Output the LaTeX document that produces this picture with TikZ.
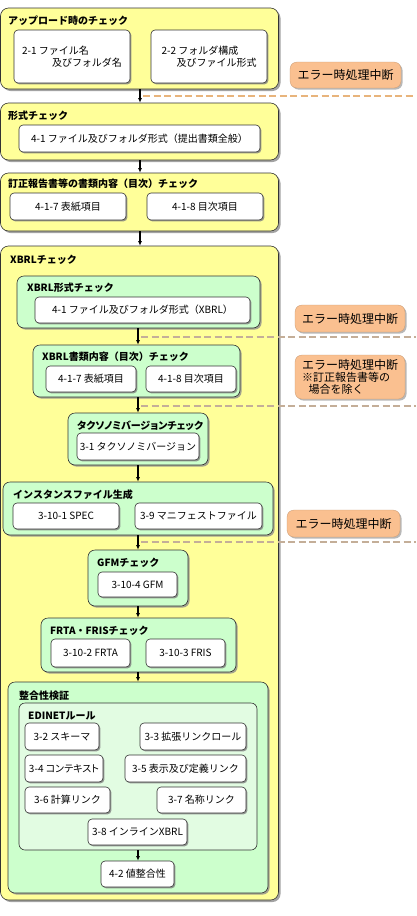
\documentclass[tikz,border=0pt]{standalone}
\usepackage{fontspec}
\setmainfont{Noto Sans CJK JP}
\usetikzlibrary{shadows,arrows.meta}
\definecolor{yel}{HTML}{FFFF99}
\definecolor{grn}{HTML}{CCFFCC}
\definecolor{lgrn}{HTML}{E2FCE2}
\definecolor{org}{HTML}{FAC090}
\definecolor{dsh1}{HTML}{E8B47C}
\definecolor{dsh2}{HTML}{C4AE98}
\definecolor{edge}{HTML}{333333}
\newcommand{\narrowtxt}{\addfontfeature{RawFeature=+palt}}
\tikzset{
  box/.style={draw=edge, line width=0.6pt, inner sep=1pt, align=center},
  ybox/.style={box, fill=yel, rounded corners=8pt,
    drop shadow={shadow xshift=2pt, shadow yshift=-2pt, fill=black!45, opacity=0.8}},
  gbox/.style={box, fill=grn, rounded corners=7pt,
    drop shadow={shadow xshift=1.6pt, shadow yshift=-1.6pt, fill=black!45, opacity=0.8}},
  ebox/.style={box, fill=lgrn, rounded corners=6pt},
  wbox/.style={box, fill=white, rounded corners=4pt, font=\fontsize{10}{12}\selectfont,
    drop shadow={shadow xshift=1.4pt, shadow yshift=-1.4pt, fill=black!50, opacity=0.8}},
  errbox/.style={draw=org!80!black, line width=0.3pt, fill=org, rounded corners=7pt, inner sep=2pt,
    font=\fontsize{12}{14}\selectfont,
    drop shadow={shadow xshift=1.6pt, shadow yshift=-1.6pt, fill=black!35, opacity=0.8}},
  ttl/.style={anchor=west, inner sep=0pt, font=\bfseries\fontsize{10}{12}\selectfont},
  arr/.style={-{Latex[length=4.5pt,width=4pt]}, line width=1.1pt, black},
  dsh/.style={line width=2pt, dash pattern=on 7pt off 3.5pt},
}
\begin{document}
\begin{tikzpicture}[x=1pt,y=-1pt]
\useasboundingbox (0,0) rectangle (416,916);
% ---- top section
\node[ybox, minimum width=278pt, minimum height=81pt] (up) at (139.5,48.5) {};
\node[ttl] (upT) at (8,21) {アップロード時のチェック};
\node[wbox, minimum width=116pt, minimum height=53pt, align=left] (b21) at (72,56.5) {2-1 ファイル名\\\hspace*{3em}及びフォルダ名};
\node[wbox, minimum width=116pt, minimum height=53pt, align=left] (b22) at (209,56.5) {2-2 フォルダ構成\\\hspace*{1.5em}及びファイル形式};
\node[errbox, minimum width=111pt, minimum height=26pt] (e1) at (345.5,75) {エラー時処理中断};

\node[ybox, minimum width=278pt, minimum height=57pt] (fmt) at (139.5,131.5) {};
\node[ttl] (fmtT) at (8,116) {形式チェック};
\node[wbox, minimum width=241pt, minimum height=27pt] (b41) at (139.5,138.5) {4-1 ファイル及びフォルダ形式（提出書類全般）};

\node[ybox, minimum width=278pt, minimum height=58pt] (rev) at (139.5,202) {};
\node[ttl] (revT) at (8,184) {訂正報告書等の書類内容（目次）チェック};
\node[wbox, minimum width=116pt, minimum height=27pt] (r417) at (68,206.5) {4-1-7 表紙項目};
\node[wbox, minimum width=116pt, minimum height=27pt] (r418) at (205,206.5) {4-1-8 目次項目};

% ---- XBRL section
\node[ybox, minimum width=278pt, minimum height=654pt] (xb) at (139.5,573) {};
\node[ttl] (xbT) at (10,260) {XBRLチェック};

\node[gbox, minimum width=243pt, minimum height=52pt] (g1) at (138.5,302) {};
\node[ttl] (g1T) at (27,288) {XBRL形式チェック};
\node[wbox, minimum width=215pt, minimum height=26pt] (g1a) at (142.5,310) {4-1 ファイル及びフォルダ形式（XBRL）};
\node[errbox, minimum width=110pt, minimum height=27pt] (e2) at (350,318.5) {エラー時処理中断};

\node[gbox, minimum width=207pt, minimum height=52pt] (g2) at (136.5,371) {};
\node[ttl] (g2T) at (42,357) {XBRL書類内容（目次）チェック};
\node[wbox, minimum width=90pt, minimum height=26pt] (g2a) at (91,379) {4-1-7 表紙項目};
\node[wbox, minimum width=90pt, minimum height=26pt] (g2b) at (191,379) {4-1-8 目次項目};
\node[errbox, minimum width=110pt, minimum height=44pt, align=left, inner sep=3pt] (e3) at (350,377)
  {エラー時処理中断\\[-2pt]{\fontsize{11}{12}\selectfont ※訂正報告書等の}\\[-2pt]{\fontsize{11}{12}\selectfont \hspace*{0.6em}場合を除く}};

\node[gbox, minimum width=140pt, minimum height=52pt] (g3) at (138,439) {};
\node[ttl] (g3T) at (77,426) {\narrowtxt タクソノミバージョンチェック};
\node[wbox, minimum width=122pt, minimum height=27pt] (g3a) at (138,446.5) {3-1 タクソノミバージョン};

\node[gbox, minimum width=270pt, minimum height=53pt] (g4) at (138,508.5) {};
\node[ttl] (g4T) at (13,495) {インスタンスファイル生成};
\node[wbox, minimum width=106pt, minimum height=26pt] (g4a) at (66,516) {3-10-1 SPEC};
\node[wbox, minimum width=127pt, minimum height=26pt] (g4b) at (198.5,516) {3-9 マニフェストファイル};
\node[errbox, minimum width=113pt, minimum height=27pt] (e4) at (343.5,523.5) {エラー時処理中断};

\node[gbox, minimum width=100pt, minimum height=56pt] (g5) at (138,578) {};
\node[ttl] (g5T) at (97,563) {GFMチェック};
\node[wbox, minimum width=79pt, minimum height=25pt] (g5a) at (137.5,584.5) {3-10-4 GFM};

\node[gbox, minimum width=195pt, minimum height=54pt] (g6) at (138.5,645) {};
\node[ttl] (g6T) at (50,631) {FRTA・FRISチェック};
\node[wbox, minimum width=79pt, minimum height=28pt] (g6a) at (90.5,653) {3-10-2 FRTA};
\node[wbox, minimum width=79pt, minimum height=28pt] (g6b) at (185.5,653) {3-10-3 FRIS};

\node[gbox, minimum width=260pt, minimum height=211pt] (g7) at (138,787.5) {};
\node[ttl] (g7T) at (19,696) {整合性検証};
\node[ebox, minimum width=238pt, minimum height=147pt] (ed) at (138,776.5) {};
\node[ttl] (edT) at (28,716) {EDINETルール};
\node[wbox, minimum width=74pt, minimum height=27pt] (r32) at (62,736.5) {3-2 スキーマ};
\node[wbox, minimum width=106pt, minimum height=27pt] (r33) at (193,736.5) {3-3 拡張リンクロール};
\node[wbox, minimum width=78pt, minimum height=27pt] (r34) at (64,768.5) {\narrowtxt 3-4 コンテキスト};
\node[wbox, minimum width=121pt, minimum height=27pt] (r35) at (185.5,768.5) {3-5 表示及び定義リンク};
\node[wbox, minimum width=85pt, minimum height=26pt] (r36) at (67.5,800) {3-6 計算リンク};
\node[wbox, minimum width=89pt, minimum height=26pt] (r37) at (201.5,800) {3-7 名称リンク};
\node[wbox, minimum width=99pt, minimum height=26pt] (r38) at (137.5,832) {3-8 インラインXBRL};
\node[wbox, minimum width=73pt, minimum height=26pt] (r42) at (137.5,874) {4-2 値整合性};

% ---- arrows
\coordinate (ax1) at (140,0);
\coordinate (ax2) at (138,0);
\draw[arr] (up.south -| ax1) -- (fmt.north -| ax1);
\draw[arr] (fmt.south -| ax1) -- (rev.north -| ax1);
\draw[arr] (rev.south -| ax1) -- (xb.north -| ax1);
\draw[arr] (g1.south -| ax2) -- (g2.north -| ax2);
\draw[arr] (g2.south -| ax2) -- (g3.north -| ax2);
\draw[arr] (g3.south -| ax2) -- (g4.north -| ax2);
\draw[arr] (g4.south -| ax2) -- (g5.north -| ax2);
\draw[arr] (g5.south -| ax2) -- (g6.north -| ax2);
\draw[arr] (g6.south -| ax2) -- (g7.north -| ax2);
\draw[arr] (ed.south -| ax2) -- (r42.north -| ax2);

% ---- dashed separators
\coordinate (d1a) at (143,96);  \coordinate (d1b) at (416,96);
\coordinate (d2a) at (141,337); \coordinate (d2b) at (416,337);
\coordinate (d3a) at (141,406); \coordinate (d3b) at (416,406);
\coordinate (d4a) at (141,542); \coordinate (d4b) at (416,542);
\draw[dsh, dsh1] (d1a) -- (d1b);
\draw[dsh, dsh2] (d2a) -- (d2b);
\draw[dsh, dsh2] (d3a) -- (d3b);
\draw[dsh, dsh2] (d4a) -- (d4b);
\end{tikzpicture}
\end{document}
